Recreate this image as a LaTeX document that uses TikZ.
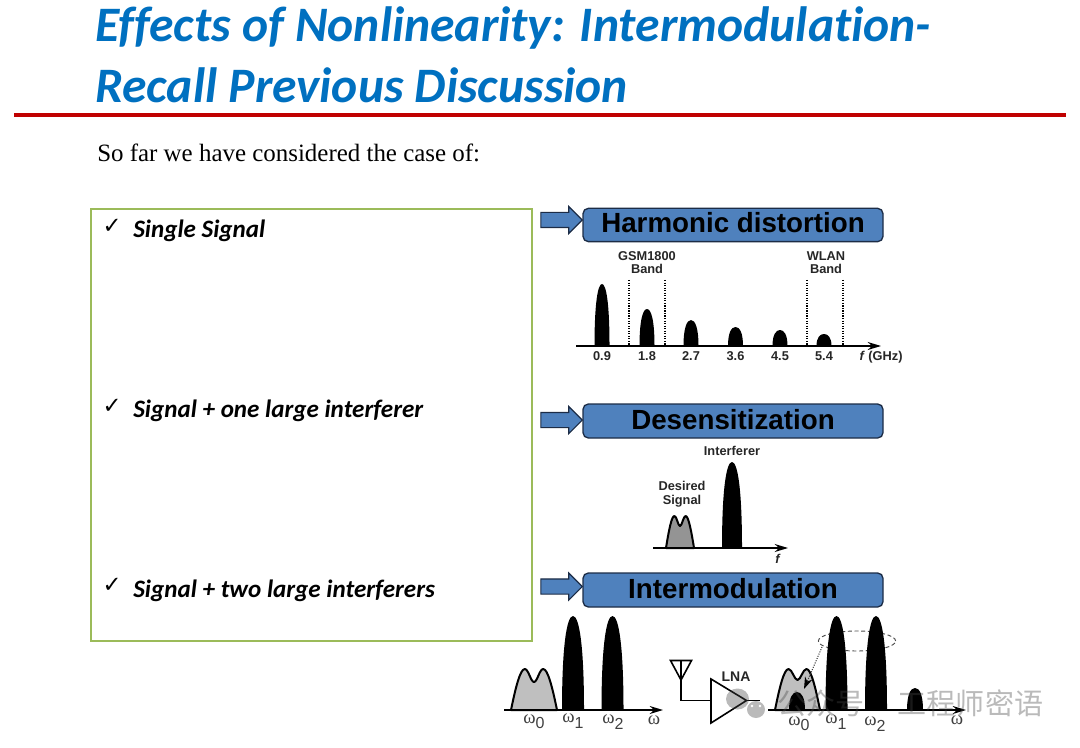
\documentclass[tikz,border=0pt]{standalone}
\usepackage{fontspec}
\setmainfont{Liberation Sans}
\newfontfamily\calibrifont[Ligatures=CommonOff]{Carlito}
\newfontfamily\timesfont{Liberation Serif}
\newfontfamily\checkfont{DejaVu Sans}
\newfontfamily\cjkfont{Noto Sans CJK SC}
\usetikzlibrary{arrows.meta, shapes.arrows, shapes.geometric, positioning}
\definecolor{titleblue}{RGB}{0, 112, 192}
\definecolor{rulered}{RGB}{192, 0, 0}
\definecolor{panelgreen}{RGB}{155, 187, 89}
\definecolor{barblue}{RGB}{79, 129, 189}
\definecolor{barline}{RGB}{28, 44, 70}
\tikzset{
  titletext/.style={anchor=base west, inner sep=0pt, text=titleblue, font=\calibrifont\bfseries\itshape\fontsize{37.2}{40}\selectfont},
  itemtext/.style={anchor=base west, inner sep=0pt, font=\calibrifont\bfseries\itshape\fontsize{18.8}{20}\selectfont},
  checktext/.style={anchor=center, inner sep=0pt, font=\checkfont\fontsize{17}{18}\selectfont},
  barbox/.style={draw=barline, line width=1pt, fill=barblue, rounded corners=4pt, minimum width=225pt, inner sep=0pt, font=\bfseries\fontsize{20.8}{22}\selectfont},
  blockarrow/.style={single arrow, draw=barline, line width=0.8pt, fill=barblue, anchor=east, inner sep=0pt, minimum height=31pt, single arrow head extend=4.5pt, single arrow tip angle=90},
  bandlabel/.style={inner sep=0pt, align=center, text=black!85, font=\bfseries\fontsize{9.6}{10.2}\selectfont},
  omlabel/.style={inner sep=0pt, text=black!75, font=\timesfont\fontsize{14}{14}\selectfont},
  specaxis/.style={line width=1.1pt, -{Stealth[length=10pt, width=6pt]}},
  watermark/.style={inner sep=0pt, text=black!73, opacity=0.37, font=\cjkfont\fontsize{21.8}{24}\selectfont},
}
% x centre, half width, top, base
\newcommand{\specpeak}[4]{
  \fill[black] ({#1-#2},#4) .. controls ({#1-#2},{#3+0.3*(#4-#3)}) and ({#1-0.55*#2},#3) .. (#1,#3)
    .. controls ({#1+0.55*#2},#3) and ({#1+#2},{#3+0.3*(#4-#3)}) .. ({#1+#2},#4) -- cycle;
}
% left, right, top, dip, base, fill
\newcommand{\twohump}[6]{
  \pgfmathsetmacro{\humpw}{#2-#1}
  \filldraw[fill=#6, draw=black, line width=1.5pt, line join=round]
    (#1,#5) .. controls ({#1+0.1*\humpw},{#3+0.45*(#5-#3)}) and ({#1+0.2*\humpw},#3) .. ({#1+0.3*\humpw},#3)
    .. controls ({#1+0.38*\humpw},#3) and ({#1+0.43*\humpw},#4) .. ({#1+0.5*\humpw},#4)
    .. controls ({#1+0.57*\humpw},#4) and ({#1+0.62*\humpw},#3) .. ({#1+0.7*\humpw},#3)
    .. controls ({#1+0.8*\humpw},#3) and ({#1+0.9*\humpw},{#3+0.45*(#5-#3)}) .. (#2,#5) -- cycle;
}
\newcommand{\omsub}[1]{ω\raisebox{-4pt}{\rmfamily\fontsize{12}{14}\selectfont #1}}
\newcommand{\arrowbody}{\rule{0pt}{10.5pt}}

\begin{document}
\begin{tikzpicture}[x=0.75pt, y=-0.75pt]
  \useasboundingbox (0,0) rectangle (1080,748);

  % Heading
  \node[titletext] (title1) at (95,42) {Effects of Nonlinearity: Intermodulation-};
  \node[titletext] (title2) at (95,102.5) {Recall Previous Discussion};
  \coordinate (ruleL) at (14,115);
  \coordinate (ruleR) at (1066,115);
  \draw[rulered, line width=2.6pt] (ruleL) -- (ruleR);
  \node[anchor=base west, inner sep=0pt, font=\timesfont\fontsize{18.7}{20}\selectfont] (intro) at (97,162)
    {So far we have considered the case of:};

  % Left panel
  \draw[panelgreen, line width=1.6pt] (91,209) rectangle (532,641);
  \node[checktext] (check1) at (112,226) {✓};
  \node[itemtext] (item1) at (133,238) {Single Signal};
  \node[checktext] (check2) at (112,406) {✓};
  \node[itemtext] (item2) at (133,417.5) {Signal + one large interferer};
  \node[checktext] (check3) at (112,585) {✓};
  \node[itemtext] (item3) at (133,597) {Signal + two large interferers};

  % Harmonic distortion
  \node[barbox, minimum height=25pt] (harmbar) at (733,225) {\raisebox{3.2pt}{Harmonic distortion}};
  \node[blockarrow] (harmarrow) at (583,220) {\arrowbody};
  \foreach \px/\ptop/\plabel in {602/284/0.9, 647/309/1.8, 691/320/2.7, 735.5/327/3.6, 780/330/4.5, 824/334/5.4}{
    \specpeak{\px}{7.5}{\ptop}{346}
    \node[bandlabel] (harm\plabel) at (\px,356) {\plabel};
  }
  \foreach \bx/\bname in {629/a, 665/b, 807/c, 843/d}{
    \coordinate (band\bname T) at (\bx,280);
    \coordinate (band\bname B) at (\bx,346);
    \draw[densely dotted, line width=0.9pt] (band\bname T) -- (band\bname B);
  }
  \coordinate (harmL) at (576,346);
  \coordinate (harmR) at (881,346);
  \draw[specaxis] (harmL) -- (harmR);
  \node[bandlabel] (gsm) at (647,262.5) {GSM1800\\Band};
  \node[bandlabel] (wlan) at (826,262.5) {WLAN\\Band};
  \node[bandlabel] (harmf) at (881,357) {\textit{f} (GHz)};

  % Desensitization
  \node[barbox, minimum height=25.5pt] (desbar) at (733,421) {\raisebox{3pt}{Desensitization}};
  \node[blockarrow] (desarrow) at (583,420) {\arrowbody};
  \specpeak{732}{10}{462}{548}
  \twohump{666}{694}{516}{526}{548}{black!42}
  \coordinate (desL) at (653,548);
  \coordinate (desR) at (788,548);
  \draw[specaxis] (desL) -- (desR);
  \node[bandlabel] (interf) at (732,451) {Interferer};
  \node[bandlabel] (desired) at (682,494) {Desired\\Signal};
  \node[bandlabel] (desf) at (778,559) {\textit{f}};

  % Intermodulation
  \node[barbox, minimum height=25.5pt] (imbar) at (733,590) {\raisebox{3pt}{Intermodulation}};
  \node[blockarrow] (imarrow) at (583,586.5) {\arrowbody};

  % spectrum at the input
  \twohump{511}{557}{669}{682}{710}{black!25}
  \specpeak{573}{11}{616}{710}
  \specpeak{612.5}{11}{616}{710}
  \coordinate (inL) at (504,710);
  \coordinate (inR) at (663,710);
  \draw[specaxis] (inL) -- (inR);
  \node[omlabel] (in0) at (534,722) {\omsub{0}};
  \node[omlabel] (in1) at (573,721) {\omsub{1}};
  \node[omlabel] (in2) at (613,722) {\omsub{2}};
  \node[omlabel] (inw) at (654,720) {ω};

  % antenna and amplifier
  \coordinate (antL) at (670.5,660.5);
  \coordinate (antR) at (691.5,660.5);
  \coordinate (antT) at (681,660.5);
  \coordinate (antB) at (681,680);
  \coordinate (antK) at (681,700.5);
  \coordinate (lnaT) at (711,679);
  \coordinate (lnaB) at (711,723);
  \coordinate (lnaO) at (746.5,700.5);
  \coordinate (lnaI) at (711,700.5);
  \coordinate (lnaE) at (760,700.5);
  \draw[line width=1.2pt, line join=miter] (antL) -- (antR) -- (antB) -- cycle;
  \draw[line width=1.2pt] (antT) -- (antK) -- (lnaI);
  \draw[line width=1.2pt] (lnaT) -- (lnaB) -- (lnaO) -- cycle;
  \draw[line width=1.2pt] (lnaO) -- (lnaE);
  \node[bandlabel, font=\bfseries\fontsize{10.5}{12}\selectfont] (lna) at (736,677) {LNA};

  % spectrum at the output
  \node[draw=black!70, densely dashed, line width=0.7pt, ellipse, minimum width=58pt, minimum height=15pt, inner sep=0pt] (imellipse) at (857,641) {};
  \twohump{775}{820}{669}{680}{710}{black!25}
  \specpeak{797}{8}{692}{710}
  \specpeak{836.5}{11}{616}{710}
  \specpeak{876}{11}{616}{710}
  \specpeak{915}{8}{688}{710}
  \coordinate (prodT) at (822,647);
  \coordinate (prodB) at (804,689);
  \draw[densely dotted, line width=0.8pt, black!75, -{Stealth[length=9pt, width=6pt, black]}] (prodT) -- (prodB);
  \coordinate (outL) at (768,710);
  \coordinate (outR) at (966,710);
  \draw[specaxis] (outL) -- (outR);
  \node[omlabel] (out0) at (799,724) {\omsub{0}};
  \node[omlabel] (out1) at (836,722) {\omsub{1}};
  \node[omlabel] (out2) at (875,724) {\omsub{2}};
  \node[omlabel] (outw) at (957,720) {ω};

  % Watermark
  \fill[black!73, opacity=0.37] (737.5,699) ellipse (11.5 and 10.5);
  \fill[black!73, opacity=0.37] (756,709.5) ellipse (9 and 8.5);
  \foreach \ex/\ey in {752/706, 760/706}{
    \fill[white] (\ex,\ey) circle (1.3);
  }
  \node[watermark] (mark1) at (821,703.5) {公众号};
  \node[watermark] (mark2) at (970.5,703.5) {工程师密语};
\end{tikzpicture}
\end{document}
